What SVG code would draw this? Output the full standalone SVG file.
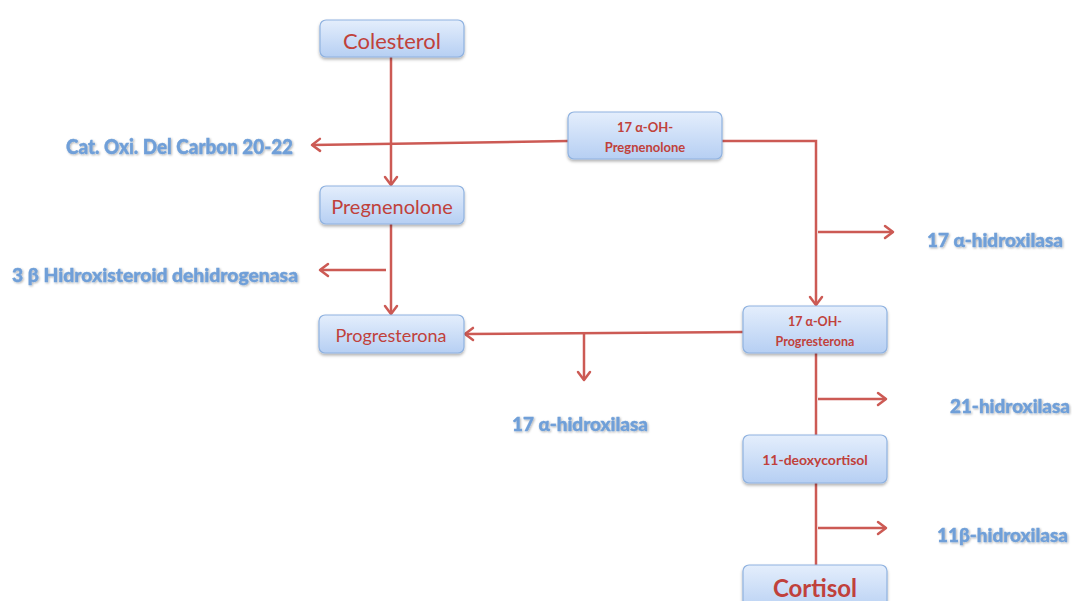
<svg xmlns="http://www.w3.org/2000/svg" width="1072" height="601" viewBox="0 0 1072 601">
<defs>
<linearGradient id="bg" x1="0" y1="0" x2="0" y2="1">
<stop offset="0" stop-color="#e4eefc"/>
<stop offset="1" stop-color="#b6cff3"/>
</linearGradient>
<filter id="sh" x="-10%" y="-20%" width="120%" height="150%">
<feDropShadow dx="0" dy="2" stdDeviation="1.5" flood-color="#000" flood-opacity="0.3"/>
</filter>
<filter id="tsh" x="-5%" y="-20%" width="110%" height="150%">
<feDropShadow dx="1" dy="1" stdDeviation="0.8" flood-color="#000" flood-opacity="0.3"/>
</filter>
<marker id="ah" markerUnits="userSpaceOnUse" markerWidth="16" markerHeight="16" refX="11" refY="8" orient="auto">
<path d="M3,2 L11,8 L3,14" fill="none" stroke="#cc5a54" stroke-width="2.5" stroke-linecap="round" stroke-linejoin="round"/>
</marker>
</defs>
<style>
.box{fill:url(#bg);stroke:#8fb2e0;stroke-width:1.2;filter:url(#sh)}
.nt{font-family:Lato,"Open Sans",sans-serif;fill:#c0413b;text-anchor:middle}
.b{font-weight:bold}
.lbl{font-family:Lato,"Open Sans",sans-serif;font-weight:900;fill:#6f9fd8;stroke:#6f9fd8;stroke-width:0.4;filter:url(#tsh)}
.c{fill:none;stroke:#cc5a54;stroke-width:2.5}
</style>
<rect width="1072" height="601" fill="#fff"/>
<g id="connectors">
<line class="c" x1="391" y1="57" x2="391" y2="185" marker-end="url(#ah)"/>
<line class="c" x1="391" y1="224" x2="391" y2="314" marker-end="url(#ah)"/>
<line class="c" x1="386" y1="270" x2="320" y2="270" marker-end="url(#ah)"/>
<line class="c" x1="568" y1="141" x2="312" y2="145" marker-end="url(#ah)"/>
<polyline class="c" points="722,141 816,141 816,305" marker-end="url(#ah)"/>
<line class="c" x1="818" y1="232" x2="893" y2="232" marker-end="url(#ah)"/>
<line class="c" x1="743" y1="332" x2="465" y2="334" marker-end="url(#ah)"/>
<line class="c" x1="584" y1="333" x2="584" y2="380" marker-end="url(#ah)"/>
<line class="c" x1="816" y1="353" x2="816" y2="435"/>
<line class="c" x1="818" y1="399" x2="886" y2="399" marker-end="url(#ah)"/>
<line class="c" x1="816" y1="483" x2="816" y2="565"/>
<line class="c" x1="818" y1="528" x2="886" y2="528" marker-end="url(#ah)"/>
</g>
<g id="colesterol">
<rect class="box" x="320" y="20" width="144" height="37" rx="6"/>
<text class="nt" x="392" y="49" font-size="22">Colesterol</text>
</g>
<g id="pregnenolone">
<rect class="box" x="320" y="186" width="144" height="38" rx="6"/>
<text class="nt" x="392" y="214" font-size="20">Pregnenolone</text>
</g>
<g id="progresterona">
<rect class="box" x="319" y="315" width="145" height="38" rx="6"/>
<text class="nt" x="391" y="342" font-size="18">Progresterona</text>
</g>
<g id="oh-pregnenolone">
<rect class="box" x="568" y="112" width="154" height="47" rx="6"/>
<text class="nt b" x="645" y="132" font-size="13">17 α-OH-</text>
<text class="nt b" x="645" y="152" font-size="13">Pregnenolone</text>
</g>
<g id="oh-progesterona">
<rect class="box" x="743" y="306" width="144" height="47" rx="6"/>
<text class="nt b" x="815" y="326" font-size="12.5">17 α-OH-</text>
<text class="nt b" x="815" y="346" font-size="12.5">Progresterona</text>
</g>
<g id="deoxycortisol">
<rect class="box" x="743" y="435" width="144" height="48" rx="6"/>
<text class="nt b" x="815" y="465" font-size="14">11-deoxycortisol</text>
</g>
<g id="cortisol">
<rect class="box" x="743" y="565" width="144" height="48" rx="6"/>
<text class="nt b" x="815" y="597" font-size="24">Cortisol</text>
</g>
<g id="labels">
<text class="lbl" x="66" y="154" font-size="20" textLength="227" lengthAdjust="spacingAndGlyphs">Cat. Oxi. Del Carbon 20-22</text>
<text class="lbl" x="12" y="282" font-size="19" textLength="286" lengthAdjust="spacingAndGlyphs">3 β Hidroxisteroid dehidrogenasa</text>
<text class="lbl" x="927" y="247" font-size="19" textLength="136" lengthAdjust="spacingAndGlyphs">17 α-hidroxilasa</text>
<text class="lbl" x="512" y="431" font-size="19" textLength="136" lengthAdjust="spacingAndGlyphs">17 α-hidroxilasa</text>
<text class="lbl" x="950" y="413" font-size="19" textLength="120" lengthAdjust="spacingAndGlyphs">21-hidroxilasa</text>
<text class="lbl" x="937" y="542" font-size="19" textLength="131" lengthAdjust="spacingAndGlyphs">11β-hidroxilasa</text>
</g>
</svg>
